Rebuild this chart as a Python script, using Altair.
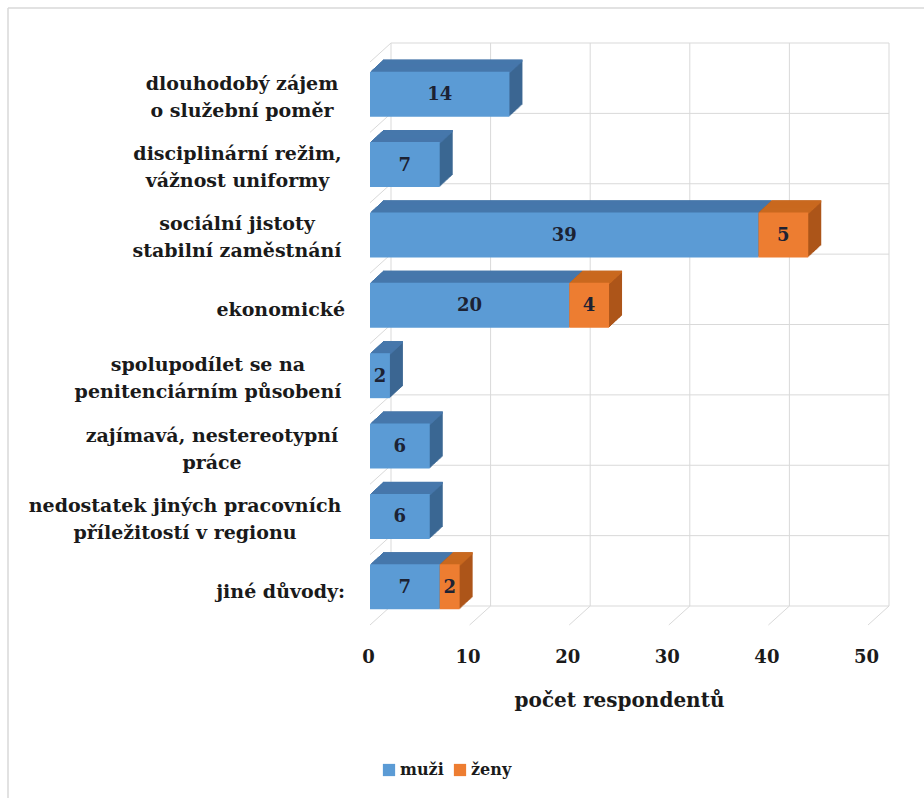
import altair as alt
import pandas as pd

# ---- data ----
categories = [
    "dlouhodobý zájem|o služební poměr",
    "disciplinární režim,|vážnost uniformy",
    "sociální jistoty|stabilní zaměstnání",
    "ekonomické",
    "spolupodílet se na|penitenciárním působení",
    "zajímavá, nestereotypní|práce",
    "nedostatek jiných pracovních|příležitostí v regionu",
    "jiné důvody:",
]
muzi = [14, 7, 39, 20, 2, 6, 6, 7]
zeny = [0, 0, 5, 4, 0, 0, 0, 2]
series_names = ["muži", "ženy"]
x_ticks = [0, 10, 20, 30, 40, 50]

# ---- style ----
W, H = 498, 563
PAD_L, PAD_T = 370, 62
FONT = "DejaVu Serif"
FS = 19
front_col = {"muži": "#5B9BD5", "ženy": "#ED7D31"}
top_col = {"muži": "#4677AB", "ženy": "#C9691F"}
side_col = {"muži": "#3B6793", "ženy": "#AD561A"}
GRID = "#D9D9D9"
DX, DY, NSTEP = 13, 12, 13
BAR = 45
BAR_SHIFT = -3
WALL_DX, WALL_DY = 21, 19
LINE_H = 27
# label block centres (px from left edge of page) for multi-line labels
label_center = {0: 242, 1: 237.5, 2: 237, 4: 208, 5: 212, 6: 185}
LABEL_RIGHT = 345

rows = []
for i, c in enumerate(categories):
    start = 0
    for s, vals in zip(series_names, [muzi, zeny]):
        v = vals[i]
        if v > 0:
            rows.append({"cat": c, "series": s, "v": v, "x0": start,
                         "x1": start + v, "xm": start + v / 2})
        start += v
df = pd.DataFrame(rows)

xscale = alt.Scale(domain=[0, 50], nice=False, zero=True)
xaxis = alt.Axis(values=x_ticks, title="počet respondentů", domain=False, ticks=False,
                 tickSize=0, grid=False, labelFont=FONT, labelFontSize=18,
                 labelFontWeight="bold", labelColor="#1a1a1a", labelPadding=23,
                 labelOffset=-2, labelFlush=False, labelOverlap=False,
                 titleFont=FONT, titleFontSize=20,
                 titleFontWeight="bold", titleColor="#1a1a1a", titlePadding=24)
yscale = alt.Scale(domain=categories, paddingInner=0, paddingOuter=0)
Yc = alt.Y("cat:N", scale=yscale, axis=None, sort=categories)


def X(field):
    return alt.X(field, scale=xscale, axis=xaxis)


layers = []

# border of chart frame
one = pd.DataFrame({"a": [0]})
layers.append(alt.Chart(one).mark_rule(color="#D9D9D9", strokeWidth=1.5).encode(
    x=alt.value(8 - PAD_L), y=alt.value(8 - PAD_T), y2=alt.value(798 - PAD_T)))
layers.append(alt.Chart(one).mark_rule(color="#D9D9D9", strokeWidth=1.5).encode(
    x=alt.value(8 - PAD_L), x2=alt.value(924 - PAD_L), y=alt.value(8 - PAD_T)))

ticks_df = pd.DataFrame({"t": x_ticks})
# back wall vertical gridlines
layers.append(alt.Chart(ticks_df).mark_rule(color=GRID, strokeWidth=1, xOffset=WALL_DX).encode(
    x=X("t:Q"), y=alt.value(-WALL_DY), y2=alt.value(H - WALL_DY)))
# floor diagonals
layers.append(alt.Chart(ticks_df).mark_rule(color=GRID, strokeWidth=1, x2Offset=WALL_DX).encode(
    x=X("t:Q"), x2="t:Q", y=alt.value(H), y2=alt.value(H - WALL_DY)))
cat_df = pd.DataFrame({"cat": categories})
# back wall horizontal lines at category boundaries
layers.append(alt.Chart(cat_df).mark_rule(color=GRID, strokeWidth=1, yOffset=-WALL_DY).encode(
    y=alt.Y("cat:N", scale=yscale, axis=None, sort=categories, bandPosition=0),
    x=alt.value(WALL_DX), x2=alt.value(W + WALL_DX)))
layers.append(alt.Chart(one).mark_rule(color=GRID, strokeWidth=1).encode(
    y=alt.value(H - WALL_DY), x=alt.value(WALL_DX), x2=alt.value(W + WALL_DX)))
# left wall diagonals
layers.append(alt.Chart(cat_df).mark_rule(color=GRID, strokeWidth=1, y2Offset=-WALL_DY).encode(
    y=alt.Y("cat:N", scale=yscale, axis=None, sort=categories, bandPosition=0),
    y2=alt.Y2("cat:N", bandPosition=0),
    x=alt.value(0), x2=alt.value(WALL_DX)))

for s in series_names:
    base = alt.Chart(df).transform_filter(alt.datum.series == s)
    enc = dict(x=X("x0:Q"), x2="x1:Q", y=Yc)
    # extrusion (side colour)
    for k in range(NSTEP, 0, -1):
        ox = DX * k / NSTEP
        oy = -DY * k / NSTEP
        layers.append(base.mark_bar(size=BAR, color=side_col[s], xOffset=ox, x2Offset=ox,
                                    yOffset=BAR_SHIFT + oy).encode(**enc))
    # top face strips
    for k in range(1, NSTEP + 1):
        ox = DX * k / NSTEP
        oy = -DY * k / NSTEP
        layers.append(base.mark_bar(size=2.2, color=top_col[s], xOffset=ox, x2Offset=ox,
                                    yOffset=BAR_SHIFT - BAR / 2 + oy + 1).encode(**enc))
    # front face
    layers.append(base.mark_bar(size=BAR, yOffset=BAR_SHIFT).encode(
        **enc,
        color=alt.Color("series:N",
                        scale=alt.Scale(domain=series_names,
                                        range=[front_col[n] for n in series_names]),
                        legend=alt.Legend(title=None, orient="none", direction="horizontal",
                                          legendX=11, legendY=700, symbolType="square",
                                          symbolSize=150, symbolStrokeWidth=0,
                                          labelFont=FONT, labelFontSize=16,
                                          labelFontWeight="bold", labelColor="#1a1a1a",
                                          labelOffset=3, columnPadding=8, padding=0))))

# value labels
layers.append(alt.Chart(df).mark_text(font=FONT, fontSize=18, fontWeight="bold",
                                      color="#1c2233", yOffset=BAR_SHIFT + 1,
                                      baseline="middle").encode(
    x=X("xm:Q"), y=Yc, text="v:Q"))

# category labels
lab = pd.DataFrame({"cat": categories})
lab["multi"] = lab["cat"].str.contains(r"\|", regex=True)
lab["lx"] = [label_center.get(i, LABEL_RIGHT) - PAD_L for i in range(len(categories))]
layers.append(alt.Chart(lab).transform_filter("datum.multi").transform_calculate(
    lines="split(datum.cat, '|')").mark_text(
    font=FONT, fontSize=FS, fontWeight="bold", color="#1a1a1a", align="center",
    baseline="middle", lineHeight=LINE_H, yOffset=-LINE_H / 2).encode(
    x=alt.X("lx:Q", scale=None), y=Yc, text="lines:N"))
layers.append(alt.Chart(lab).transform_filter("!datum.multi").mark_text(
    font=FONT, fontSize=FS, fontWeight="bold", color="#1a1a1a", align="right",
    baseline="middle", yOffset=2).encode(
    x=alt.value(LABEL_RIGHT - PAD_L), y=Yc, text="cat:N"))

chart = alt.layer(*layers).properties(
    width=W, height=H,
    autosize=alt.AutoSizeParams(type="none"),
    padding={"left": PAD_L, "top": PAD_T, "right": 924 - PAD_L - W, "bottom": 798 - PAD_T - H},
    background="white",
).configure_view(stroke=None)

chart.save("out.html", embed_options={"renderer": "svg", "actions": False})
